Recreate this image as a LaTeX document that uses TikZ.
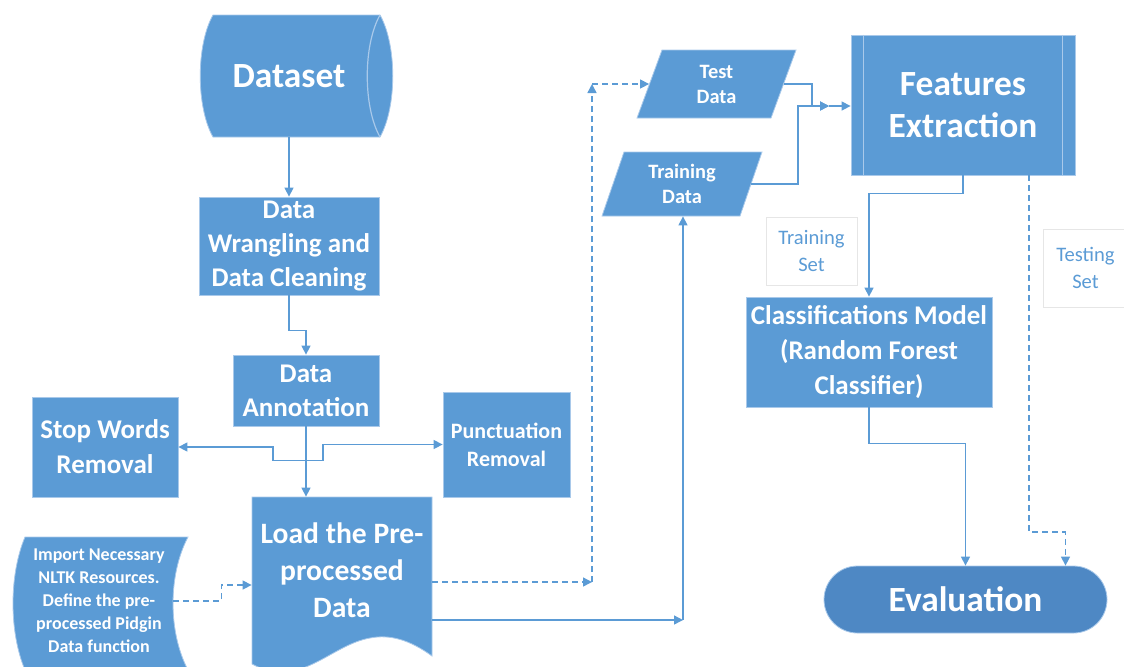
\documentclass[tikz,border=0pt]{standalone}
\usepackage{fontspec}
\setmainfont{Carlito}
\usetikzlibrary{arrows.meta,calc}
\definecolor{mblue}{HTML}{5B9BD5}
\definecolor{dblue}{HTML}{4E88C4}
\definecolor{rim}{HTML}{A9C9EA}
\definecolor{lgray}{HTML}{E6E6E6}
\newcommand\fsz[2]{\fontsize{#1}{#2}\selectfont}
\begin{document}
\begin{tikzpicture}[x=0.5pt,y=-0.5pt,
  flow/.style={fill=mblue, draw=rim, line width=0.4pt, text=white, align=center,
               inner sep=0pt, font=\bfseries},
  txt/.style={text=white, align=center, inner sep=0pt, font=\bfseries},
  solidshape/.style={fill=mblue, draw=rim, line width=0.4pt},
  conn/.style={draw=mblue, line width=0.7pt, -{Triangle[length=4.5pt,width=4.5pt]}},
  dconn/.style={conn, dash pattern=on 3pt off 2pt},
  lbl/.style={draw=lgray, line width=0.5pt, text=mblue, align=center,
              font=\fsz{10.3}{13.5}, inner sep=0pt}]
\useasboundingbox (0,0) rectangle (1124,666);
\clip (0,0) rectangle (1124,666);

% storage drum for the data set
\path[solidshape] (213,15) -- (380,15) .. controls (397,45) and (397,107) .. (380,137)
  -- (213,137) .. controls (196,107) and (196,45) .. (213,15) -- cycle;
\draw[rim, line width=0.6pt] (380,15) .. controls (363,45) and (363,107) .. (380,137);

% document shape for the loading step
\path[solidshape] (252,497) -- (432,497) -- (432,656)
  .. controls (410,640) and (390,634) .. (370,638)
  .. controls (330,645) and (300,690) .. (252,664) -- cycle;

% stored-data shape for the imports
\path[solidshape] (25,537) -- (188,537) .. controls (168,575) and (168,632) .. (188,670)
  -- (25,670) .. controls (9,632) and (9,575) .. (25,537) -- cycle;

% input/output parallelograms
\path[solidshape] (662,50) -- (796,50) -- (771,118) -- (637,118) -- cycle;
\path[solidshape] (624,152) -- (762,152) -- (740,216) -- (602,216) -- cycle;

% nodes
\node[txt, font=\bfseries\fsz{17.7}{21}, minimum height=61pt] (ds) at (289,76) {Dataset};
\node[flow, font=\bfseries\fsz{13.5}{17.2}, minimum width=90pt, minimum height=49pt] (wr) at (289,246)
  {Data\\Wrangling and\\Data Cleaning};
\node[flow, font=\bfseries\fsz{13.5}{17}, minimum width=73pt, minimum height=35.5pt] (ann) at (306,390.5)
  {Data\\Annotation};
\node[flow, font=\bfseries\fsz{13.5}{17.5}, minimum width=73pt, minimum height=50pt] (stop) at (105,447)
  {Stop Words\\Removal};
\node[flow, font=\bfseries\fsz{11}{14}, minimum width=63.5pt, minimum height=52.5pt] (punct) at (506.5,444.5)
  {Punctuation\\Removal};
\node[txt, font=\bfseries\fsz{14.8}{18.5}, minimum width=90pt, minimum height=73pt] (load) at (342,570)
  {Load the Pre-\\processed\\Data};
\node[txt, font=\bfseries\fsz{9}{11.5}, minimum width=74pt] (imp) at (99,601)
  {Import Necessary\\NLTK Resources.\\Define the pre-\\processed Pidgin\\Data function};
\node[txt, font=\bfseries\fsz{10.2}{12.5}, minimum width=67pt, minimum height=34pt] (test) at (716.5,84)
  {Test\\Data};
\node[txt, font=\bfseries\fsz{10.2}{12.5}, minimum width=69pt, minimum height=32pt] (train) at (682,184)
  {Training\\Data};
\node[flow, font=\bfseries\fsz{17.7}{21}, minimum width=112pt, minimum height=70pt] (feat) at (963,105)
  {Features\\Extraction};
\draw[rim, line width=0.5pt] ([xshift=6.5pt]feat.north west) -- ([xshift=6.5pt]feat.south west);
\draw[rim, line width=0.5pt] ([xshift=-6.5pt]feat.north east) -- ([xshift=-6.5pt]feat.south east);
\node[flow, font=\bfseries\fsz{13.5}{17.5}, minimum width=123pt, minimum height=55pt] (cls) at (869,352)
  {Classifications Model\\(Random Forest\\Classifier)};
\node[flow, fill=dblue, draw=rim, rounded corners=16.75pt, font=\bfseries\fsz{17.7}{21},
  minimum width=141.5pt, minimum height=33.5pt] (eval) at (965.5,599.5) {Evaluation};
\node[lbl, minimum width=45.5pt, minimum height=34pt] (trset) at (811.5,251) {Training\\Set};
\node[lbl, minimum width=42.5pt, minimum height=39pt] (teset) at (1085.5,268) {Testing\\Set};

% connectors: preprocessing chain
\draw[conn] (ds.south) -- (wr.north);
\draw[conn] (wr.south) -- ++(0,-17.5pt) -| (ann.north);
\draw[conn] (ann.south) -- (ann.south |- load.north);
\coordinate (jn) at ($(ann.south)+(0,-17pt)$);
\draw[conn] (jn) -- ++(-16.5pt,0) |- (stop.east);
\draw[conn] (jn) -- ++(8.5pt,0) |- (punct.west);
\draw[dconn] (imp.east) -- ++(24pt,0) |- ([yshift=-7.5pt]load.west);

% connectors: data split
\coordinate (d1) at (592,582);
\coordinate (d2) at (592,84);
\draw[dconn] ([yshift=-6pt]load.east) -- (d1);
\draw[dconn] (d1) -- (d2);
\draw[dconn] (d2) -- (test.west);
\coordinate (s1) at (683,620);
\draw[conn] ([yshift=-25pt]load.east) -- (s1);
\draw[conn] (s1) -- (s1 |- train.south);

% connectors: features and model
\coordinate (jf) at (829,106);
\draw[conn] (test.east) -- (812,84) |- (jf);
\draw[conn] (train.east) -| (798,106) -- (jf);
\draw[conn] (jf) -- (feat.west |- jf);
\draw[conn] (feat.south) -- ++(0,-9pt) -| (cls.north);
\draw[conn] (cls.south) -- ++(0,-18pt) -| (eval.north);
\draw[dconn] ([xshift=33pt]feat.south) -- (1029,532) -| ([xshift=50pt]eval.north);
\end{tikzpicture}
\end{document}
